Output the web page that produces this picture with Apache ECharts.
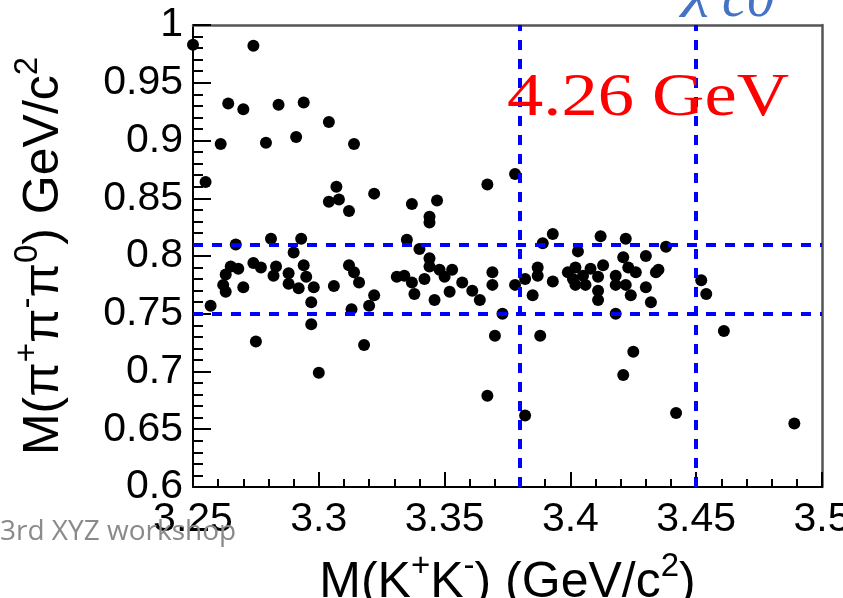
<!DOCTYPE html>
<html>
<head>
<meta charset="utf-8">
<script src="https://cdn.jsdelivr.net/npm/echarts@6/dist/echarts.min.js"></script>
<style>
  html, body { margin: 0; padding: 0; background: #ffffff; }
  #chart { width: 843px; height: 598px; }
</style>
</head>
<body>
<div id="chart"></div>
<script>
// Candidate events: M(K+K-) and M(pi+ pi- pi0), both in GeV/c^2
const mKK = [
  3.250, 3.274, 3.264, 3.270, 3.284, 3.294, 3.304, 3.261, 3.279, 3.291, 3.314, 3.255,
  3.307, 3.304, 3.308, 3.312, 3.322, 3.337, 3.347, 3.344, 3.344, 3.367, 3.378,
  3.281, 3.293, 3.267, 3.290, 3.274, 3.277, 3.265, 3.268, 3.263, 3.283, 3.282, 3.288,
  3.294, 3.295, 3.288, 3.292, 3.298, 3.262, 3.263, 3.270, 3.306, 3.312, 3.297, 3.257,
  3.297, 3.275, 3.313,
  3.335, 3.340, 3.344, 3.344, 3.348, 3.353, 3.350, 3.314, 3.316, 3.331, 3.334, 3.337,
  3.342, 3.338, 3.346, 3.352, 3.357, 3.361, 3.364, 3.369, 3.369, 3.322, 3.320, 3.373,
  3.318, 3.370,
  3.393, 3.389, 3.412, 3.422, 3.403, 3.421, 3.430, 3.387, 3.387, 3.382, 3.378, 3.393,
  3.385, 3.399, 3.402, 3.401, 3.405, 3.402, 3.406, 3.408, 3.413, 3.411, 3.411, 3.411,
  3.418, 3.418, 3.423, 3.426, 3.422, 3.424, 3.430, 3.432, 3.434, 3.418, 3.388,
  3.438, 3.435, 3.452, 3.454, 3.461,
  3.421, 3.425, 3.442, 3.489, 3.300, 3.367, 3.382
];
const m3pi = [
  0.983, 0.982, 0.932, 0.927, 0.931, 0.933, 0.916, 0.897, 0.898, 0.903, 0.897, 0.864,
  0.860, 0.847, 0.849, 0.839, 0.854, 0.845, 0.848, 0.834, 0.829, 0.862, 0.871,
  0.815, 0.815, 0.810, 0.803, 0.794, 0.790, 0.791, 0.789, 0.784, 0.791, 0.783, 0.785,
  0.792, 0.782, 0.776, 0.772, 0.773, 0.775, 0.769, 0.773, 0.774, 0.792, 0.760, 0.757,
  0.741, 0.726, 0.754,
  0.814, 0.806, 0.798, 0.791, 0.788, 0.788, 0.782, 0.786, 0.777, 0.782, 0.783, 0.777,
  0.780, 0.767, 0.762, 0.769, 0.777, 0.770, 0.762, 0.786, 0.775, 0.766, 0.757, 0.750,
  0.723, 0.731,
  0.819, 0.811, 0.817, 0.815, 0.804, 0.799, 0.800, 0.790, 0.783, 0.780, 0.775, 0.778,
  0.766, 0.786, 0.790, 0.780, 0.783, 0.775, 0.775, 0.789, 0.792, 0.782, 0.770, 0.762,
  0.783, 0.775, 0.790, 0.786, 0.775, 0.766, 0.773, 0.760, 0.786, 0.750, 0.731,
  0.808, 0.788, 0.779, 0.767, 0.735,
  0.697, 0.717, 0.664, 0.655, 0.699, 0.679, 0.662
];

// Selection windows drawn as dashed cut lines
const kkWindow = [3.38, 3.45];
const omegaWindow = [0.75, 0.81];

// Axis ranges, major and minor tick spacing
const xRange = [3.25, 3.5];
const yRange = [0.6, 1.0];
const majorStep = 0.05;
const minorStep = 0.01;

const SANS = '"Liberation Sans", Arial, Helvetica, sans-serif';

const points = mKK.map((x, i) => [x, m3pi[i]]);
const cutLines = kkWindow.map(v => ({ xAxis: v }))
  .concat(omegaWindow.map(v => ({ yAxis: v })));

const nameRich = {
  t: { fontFamily: SANS, fontSize: 50, lineHeight: 58, color: '#000', verticalAlign: 'bottom' },
  s: { fontFamily: SANS, fontSize: 33, lineHeight: 33, color: '#000', verticalAlign: 'top' }
};

// Plain frame edge (top / right): line only
function frameAxis(position, range) {
  return {
    type: 'value', position: position, min: range[0], max: range[1], interval: majorStep,
    axisLine: { show: true, onZero: false, lineStyle: { color: '#555', width: 2.5 } },
    axisTick: { show: false }, minorTick: { show: false },
    axisLabel: { show: false }, splitLine: { show: false }
  };
}

// Tick-only axis pulled into the plot by its tick length, so the
// ticks point inward from the frame edge
function tickAxis(position, range, step, len) {
  return {
    type: 'value', position: position, offset: -len,
    min: range[0], max: range[1], interval: step,
    axisLine: { show: false, onZero: false },
    axisTick: { show: true, inside: false, length: len, lineStyle: { color: '#000', width: 2 } },
    minorTick: { show: false },
    axisLabel: { show: false }, splitLine: { show: false }
  };
}

const chart = echarts.init(document.getElementById('chart'));

const option = {
  animation: false,
  backgroundColor: '#ffffff',
  grid: {
    left: 193, right: 21, top: 25, bottom: 111,
    show: false,
    outerBoundsMode: 'none'
  },
  xAxis: [{
    type: 'value', position: 'bottom',
    min: xRange[0], max: xRange[1], interval: majorStep,
    name: '{t|M(K}{s|+}{t|K}{s|-}{t|) (GeV/c}{s|2}{t|)}',
    nameLocation: 'middle', nameGap: 63, nameMoveOverlap: false,
    nameTextStyle: { rich: nameRich },
    axisLine: { show: true, onZero: false, lineStyle: { color: '#000', width: 2 } },
    axisTick: { show: false },
    axisLabel: { fontFamily: SANS, fontSize: 41, color: '#000', margin: 12 },
    splitLine: { show: false }
  },
    frameAxis('top', xRange),
    tickAxis('bottom', xRange, majorStep, 15),
    tickAxis('bottom', xRange, minorStep, 8)
  ],
  yAxis: [{
    type: 'value', position: 'left',
    min: yRange[0], max: yRange[1], interval: majorStep,
    name: '{t|M(π}{s|+}{t|π}{s|-}{t|π}{s|0}{t|) GeV/c}{s|2}',
    nameLocation: 'middle', nameGap: 124, nameRotate: 90, nameMoveOverlap: false,
    nameTextStyle: { rich: nameRich },
    axisLine: { show: true, onZero: false, lineStyle: { color: '#000', width: 2 } },
    axisTick: { show: false },
    axisLabel: { fontFamily: SANS, fontSize: 41, color: '#000', margin: 10 },
    splitLine: { show: false }
  },
    frameAxis('right', yRange),
    tickAxis('left', yRange, majorStep, 18),
    tickAxis('left', yRange, minorStep, 10)
  ],
  series: [{
    type: 'scatter',
    xAxisIndex: 0, yAxisIndex: 0,
    data: points,
    symbol: 'circle',
    symbolSize: 12,
    clip: false,
    itemStyle: { color: '#000', opacity: 1 },
    markLine: {
      silent: true,
      symbol: 'none',
      label: { show: false },
      lineStyle: { color: '#0000ff', width: 4, type: [10, 9] },
      data: cutLines
    }
  }],
  graphic: [
    {
      type: 'text', x: 507, y: 98.5, scaleX: 1.17, z: 100,
      style: {
        text: '4.26 GeV', font: '62px "Liberation Serif", "Times New Roman", serif',
        fill: '#ff0000', textAlign: 'left', textVerticalAlign: 'middle',
        align: 'left', verticalAlign: 'middle'
      }
    },
    {
      type: 'text', x: 684, y: -10, scaleX: 1.15, z: 100,
      style: {
        text: 'χ', font: 'italic 56px "Liberation Serif", "DejaVu Serif", serif',
        fill: '#4472c4', textAlign: 'left', textVerticalAlign: 'middle',
        align: 'left', verticalAlign: 'middle'
      }
    },
    {
      type: 'text', x: 722, y: 1, z: 100,
      style: {
        text: 'c0', font: 'italic 56px "Liberation Serif", "DejaVu Serif", serif',
        fill: '#4472c4', textAlign: 'left', textVerticalAlign: 'middle',
        align: 'left', verticalAlign: 'middle'
      }
    },
    {
      type: 'text', x: 0, y: 531.7, z: 100,
      style: {
        text: '3rd XYZ workshop', font: '28px "Open Sans", "Noto Sans", sans-serif',
        fill: '#8a8a8a', textAlign: 'left', textVerticalAlign: 'middle',
        align: 'left', verticalAlign: 'middle'
      }
    }
  ]
};

chart.setOption(option);
</script>
</body>
</html>
